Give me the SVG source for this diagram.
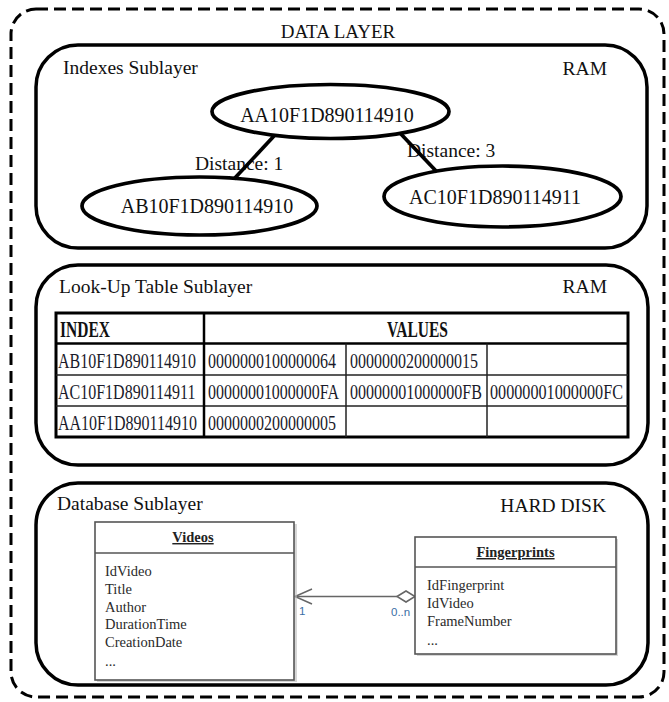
<svg xmlns="http://www.w3.org/2000/svg" width="669" height="702" viewBox="0 0 669 702">
<style>
text{font-family:"Liberation Serif","Times New Roman",serif;fill:#111}
.lbl{font-size:19.5px}
.sub{fill:none;stroke:#000;stroke-width:3.5}
.node{fill:#fff;stroke:#000;stroke-width:3.7}
.nt{font-size:20px;text-anchor:middle}
.edge{stroke:#000;stroke-width:3.7;fill:none}
.tb-outer{fill:#fff;stroke:#000;stroke-width:3}
.tb-thick{stroke:#000;stroke-width:2.5}
.tb-thin{stroke:#222;stroke-width:1.5}
.cell{font-size:16px;fill:#1a1a2a}
.hdr{font-size:15.5px;font-weight:bold}
.uml{fill:#fff;stroke:#555;stroke-width:1.6}
.shadow{fill:#bbb;opacity:.6}
.uh{font-size:14.5px;font-weight:bold;text-anchor:middle;text-decoration:underline;fill:#222}
.ua{font-size:14.5px;fill:#2a2a2a}
.assoc{stroke:#666;stroke-width:1.5;fill:none}
.mult{font-family:"Liberation Sans",Arial,sans-serif;font-size:11.5px;fill:#3a6ea5}
</style>
<g id="data-layer">
<rect x="11" y="9" width="653" height="688" rx="25" fill="none" stroke="#000" stroke-width="3" stroke-dasharray="12 6"/>
<text x="338" y="38" font-size="19" text-anchor="middle">DATA LAYER</text>
</g>
<g id="indexes-sublayer">
<rect class="sub" x="36" y="45" width="611" height="203" rx="42"/>
<text class="lbl" x="63" y="74">Indexes Sublayer</text>
<text class="lbl" x="607" y="75" text-anchor="end">RAM</text>
</g>
<g id="node-aa">
<ellipse class="node" cx="330.5" cy="111.5" rx="118.5" ry="27"/>
<text class="nt" x="327" y="122">AA10F1D890114910</text>
</g>
<g id="node-ab">
<ellipse class="node" cx="199.5" cy="206" rx="117.5" ry="29"/>
<text class="nt" x="207" y="213">AB10F1D890114910</text>
</g>
<g id="node-ac">
<ellipse class="node" cx="502.5" cy="196.5" rx="118.5" ry="30.5"/>
<text class="nt" x="495" y="204">AC10F1D890114911</text>
</g>
<g id="connectors">
<text x="195" y="170" font-size="19.5">Distance: 1</text>
<line class="edge" x1="274" y1="136" x2="234" y2="179"/>
<text x="407" y="157" font-size="19.5">Distance: 3</text>
<line class="edge" x1="400" y1="133" x2="437" y2="172"/>
<line class="assoc" x1="295" y1="596.5" x2="397" y2="596.5"/>
<polyline class="assoc" points="312,589 295,596.5 312,604"/>
<polygon class="assoc" points="397,596.5 406,591 415,596.5 406,602" fill="#fff"/>
<text class="mult" x="299" y="615">1</text>
<text class="mult" x="391" y="616">0..n</text>
</g>
<g id="lookup-sublayer">
<rect class="sub" x="36" y="265" width="612" height="200" rx="42"/>
<text class="lbl" x="59" y="293">Look-Up Table Sublayer</text>
<text class="lbl" x="607" y="293" text-anchor="end">RAM</text>
<g id="lookup-table">
<rect class="tb-outer" x="56" y="313" width="572" height="124"/>
<line class="tb-thick" x1="56" y1="343.5" x2="628" y2="343.5"/>
<line class="tb-thin" x1="56" y1="375" x2="628" y2="375"/>
<line class="tb-thin" x1="56" y1="406" x2="628" y2="406"/>
<line class="tb-thick" x1="204" y1="313" x2="204" y2="437"/>
<line class="tb-thin" x1="346" y1="343.5" x2="346" y2="437"/>
<line class="tb-thin" x1="487" y1="343.5" x2="487" y2="437"/>
<g transform="translate(0,337) scale(1,1.45)">
<text class="hdr" x="60" y="0" textLength="50" lengthAdjust="spacingAndGlyphs">INDEX</text>
<text class="hdr" x="387" y="0" textLength="61" lengthAdjust="spacingAndGlyphs">VALUES</text>
</g>
<g transform="translate(0,367.5) scale(1,1.3)">
<text class="cell" x="58" y="0">AB10F1D890114910</text>
<text class="cell" x="208" y="0">0000000100000064</text>
<text class="cell" x="350" y="0">0000000200000015</text>
</g>
<g transform="translate(0,398.5) scale(1,1.3)">
<text class="cell" x="58" y="0">AC10F1D890114911</text>
<text class="cell" x="208" y="0" textLength="131" lengthAdjust="spacingAndGlyphs">00000001000000FA</text>
<text class="cell" x="350" y="0" textLength="132" lengthAdjust="spacingAndGlyphs">00000001000000FB</text>
<text class="cell" x="490" y="0" textLength="133" lengthAdjust="spacingAndGlyphs">00000001000000FC</text>
</g>
<g transform="translate(0,429.5) scale(1,1.3)">
<text class="cell" x="58" y="0">AA10F1D890114910</text>
<text class="cell" x="208" y="0">0000000200000005</text>
</g>
</g>
</g>
<g id="database-sublayer">
<rect class="sub" x="36" y="483" width="612" height="202" rx="42"/>
<text class="lbl" x="57" y="510">Database Sublayer</text>
<text class="lbl" x="606" y="512" text-anchor="end">HARD DISK</text>
</g>
<g id="videos">
<rect class="shadow" x="97" y="524" width="200" height="158"/>
<rect class="uml" x="95" y="522" width="199" height="158"/>
<line class="uml" x1="95" y1="553" x2="294" y2="553"/>
<text class="uh" x="193" y="542">Videos</text>
<text class="ua" x="105" y="576">IdVideo</text>
<text class="ua" x="105" y="593.5">Title</text>
<text class="ua" x="105" y="611.5">Author</text>
<text class="ua" x="105" y="629">DurationTime</text>
<text class="ua" x="105" y="646.5">CreationDate</text>
<text class="ua" x="105" y="666">...</text>
</g>
<g id="fingerprints">
<rect class="shadow" x="417" y="539" width="201" height="117"/>
<rect class="uml" x="415" y="537" width="201" height="117"/>
<line class="uml" x1="415" y1="567" x2="616" y2="567"/>
<text class="uh" x="515.5" y="557">Fingerprints</text>
<text class="ua" x="427" y="590">IdFingerprint</text>
<text class="ua" x="427" y="608">IdVideo</text>
<text class="ua" x="427" y="626">FrameNumber</text>
<text class="ua" x="427" y="645">...</text>
</g>
</svg>
